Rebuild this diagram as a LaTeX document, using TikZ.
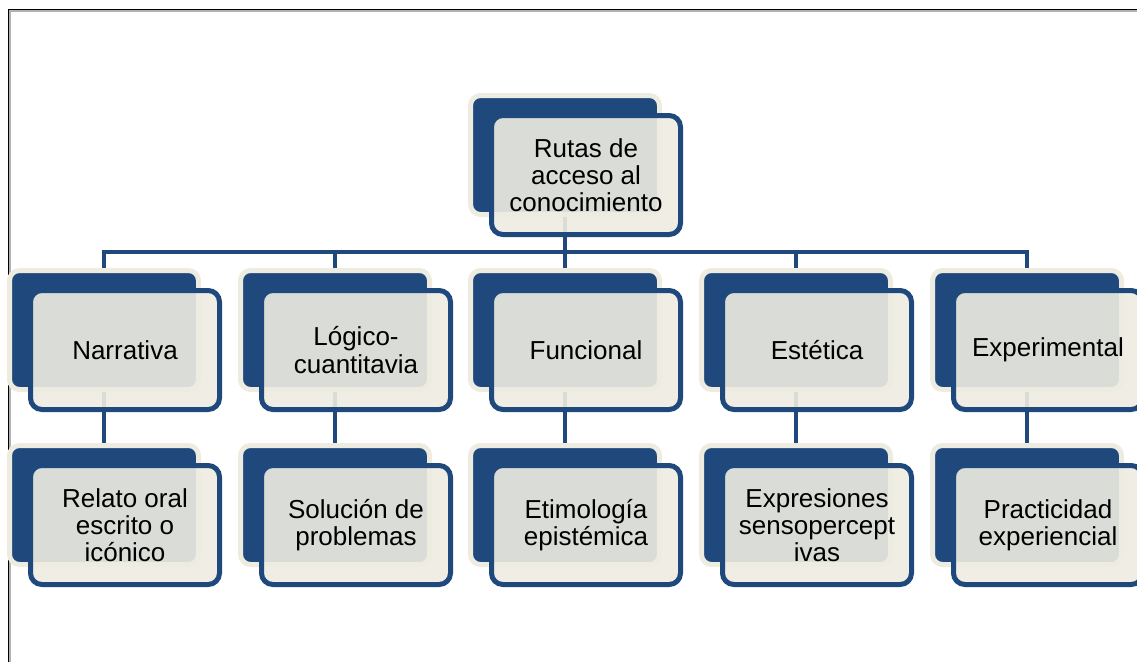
\documentclass[tikz,border=0pt]{standalone}
\usepackage{fontspec}
\setmainfont{Liberation Sans}
\definecolor{dblue}{HTML}{1F497D}
\definecolor{cream}{HTML}{EEECE1}
\begin{document}
\begin{tikzpicture}[x=0.75pt,y=-0.75pt,
  backbox/.style={draw=cream, fill=dblue, line width=3.75pt, rounded corners=7.5pt,
    minimum width=141.75pt, minimum height=89.25pt, inner sep=0pt},
  frontbox/.style={draw=dblue, fill=cream, fill opacity=0.9, draw opacity=1, text opacity=1,
    line width=3.75pt, rounded corners=8.5pt, minimum width=141.75pt, minimum height=89.25pt,
    inner sep=0pt, align=center, text=black, font=\fontsize{19.5pt}{20.4pt}\selectfont},
  conn/.style={draw=dblue, line width=3.4pt},
  framestyle/.style={draw=black, line width=1.2pt}]
\useasboundingbox (0,0) rectangle (1137,661);
% frame
\draw[gray!60, line width=1pt] (10,700) -- (10,11) -- (1150,11);
\draw[framestyle] (8.5,700) -- (8.5,9.5) -- (1150,9.5);
% back boxes
\node[backbox] (b0) at (565,155) {};
\node[backbox] (b1) at (104,330) {};
\node[backbox] (b2) at (335,330) {};
\node[backbox] (b3) at (565,330) {};
\node[backbox] (b4) at (796,330) {};
\node[backbox] (b5) at (1027,330) {};
\node[backbox] (c1) at (104,505) {};
\node[backbox] (c2) at (335,505) {};
\node[backbox] (c3) at (565,505) {};
\node[backbox] (c4) at (796,505) {};
\node[backbox] (c5) at (1027,505) {};
% connectors
\coordinate (bus) at (565,252);
\draw[conn] (b0.south) -- (bus);
\draw[conn] (b1.north) |- (bus);
\draw[conn] (b2.north) |- (bus);
\draw[conn] (b3.north) -- (bus);
\draw[conn] (b4.north) |- (bus);
\draw[conn] (b5.north) |- (bus);
\draw[conn] (b1.south) -- (c1.north);
\draw[conn] (b2.south) -- (c2.north);
\draw[conn] (b3.south) -- (c3.north);
\draw[conn] (b4.south) -- (c4.north);
\draw[conn] (b5.south) -- (c5.north);
% front boxes
\node[frontbox] (f0) at (586,175) {Rutas de\\acceso al\\conocimiento};
\node[frontbox] (f1) at (125,350) {Narrativa};
\node[frontbox] (f2) at (356,350) {Lógico-\\cuantitavia};
\node[frontbox] (f3) at (586,350) {Funcional};
\node[frontbox] (f4) at (817,350) {Estética};
\node[frontbox] (f5) at (1048,350) {Experimental};
\node[frontbox] (g1) at (125,525) {Relato oral\\escrito o\\icónico};
\node[frontbox] (g2) at (356,525) {Solución de\\problemas};
\node[frontbox] (g3) at (586,525) {Etimología\\epistémica};
\node[frontbox] (g4) at (817,525) {Expresiones\\sensopercept\\ivas};
\node[frontbox] (g5) at (1048,525) {Practicidad\\experiencial};
\end{tikzpicture}
\end{document}
